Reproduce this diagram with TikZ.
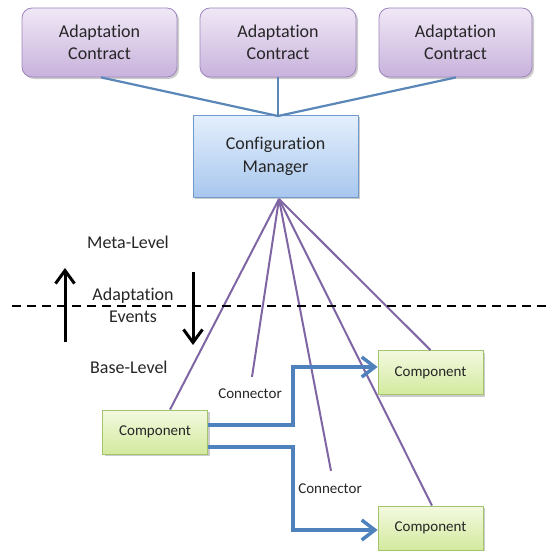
\documentclass[tikz,border=0pt]{standalone}
\usepackage{fontspec}
\setmainfont{Carlito}[Ligatures={NoCommon}]
\usetikzlibrary{arrows.meta,shadows,calc}
\definecolor{pfill1}{HTML}{F0E8F6}
\definecolor{pfill2}{HTML}{C8B2DC}
\definecolor{pdraw}{HTML}{9F86BE}
\definecolor{bfill1}{HTML}{E4EFFC}
\definecolor{bfill2}{HTML}{A8C7EE}
\definecolor{bdraw}{HTML}{7199CC}
\definecolor{gfill1}{HTML}{F3F9E0}
\definecolor{gfill2}{HTML}{D3EA9E}
\definecolor{gdraw}{HTML}{A3C46C}
\definecolor{steel}{HTML}{5B86B8}
\definecolor{lilac}{HTML}{7F65A3}
\definecolor{arrowblue}{HTML}{4F81BD}
\definecolor{txt}{HTML}{262626}
\tikzset{
  shad/.style={drop shadow={shadow xshift=2pt,shadow yshift=-2pt,opacity=0.2,fill=black}},
  contract/.style={shad,draw=pdraw,line width=0.8pt,rounded corners=10pt,top color=pfill1,bottom color=pfill2,
    align=center,text=txt,font=\fontsize{18}{22}\selectfont,inner sep=0pt},
  manager/.style={shad,draw=bdraw,line width=0.8pt,top color=bfill1,bottom color=bfill2,
    align=center,text=txt,font=\fontsize{18}{23}\selectfont,inner sep=0pt,minimum width=165pt,minimum height=82pt},
  comp/.style={shad,draw=gdraw,line width=0.8pt,top color=gfill1,bottom color=gfill2,
    text=txt,font=\fontsize{15}{18}\selectfont,inner sep=0pt,minimum width=105pt,minimum height=44pt},
  lbl/.style={text=txt,font=\fontsize{18}{22}\selectfont,inner sep=0pt,align=center},
  smalllbl/.style={text=txt,font=\fontsize{15}{18}\selectfont,inner sep=0pt},
  upline/.style={draw=steel,line width=2.2pt},
  metaline/.style={draw=lilac,line width=2pt},
  flow/.style={draw=arrowblue,line width=3.5pt,-{Straight Barb[length=13pt,width=20pt,line width=3.5pt]}},
  evarrow/.style={draw=black,line width=3pt,-{Straight Barb[length=13pt,width=19pt,line width=3pt]}},
}
\begin{document}
\begin{tikzpicture}[x=1pt,y=-1pt]
\useasboundingbox (0,0) rectangle (546,551);
% boxes
\node[contract,minimum width=155pt,minimum height=69pt] (ac1) at (99.5,42.5) {Adaptation\\Contract};
\node[contract,minimum width=156pt,minimum height=69pt] (ac2) at (278,42.5) {Adaptation\\Contract};
\node[contract,minimum width=153pt,minimum height=69pt] (ac3) at (455.5,42.5) {Adaptation\\Contract};
\node[manager] (cm) at (275.5,156) {Configuration\\Manager};
\node[comp] (c1) at (155,432) {Component};
\node[comp] (c2) at (430.5,372.5) {Component};
\node[comp] (c3) at (430.5,528) {Component};
% labels
\node[smalllbl] (k1) at (250,394) {Connector};
\node[smalllbl] (k2) at (330,489) {Connector};
\node[lbl] (meta) at (128,242) {Meta-Level};
\node[lbl] (ev) at (133,305) {Adaptation\\Events};
\node[lbl,anchor=west] (base) at (90,367) {Base-Level};
% connection points
\coordinate (cmtop) at (278,116);
\coordinate (cmbot) at (279,199);
% contract lines
\draw[upline] ($(ac1.south)+(1.5,0)$) -- (cmtop);
\draw[upline] (ac2.south) -- (cmtop);
\draw[upline] ($(ac3.south)+(0.5,0)$) -- (cmtop);
% meta lines
\draw[metaline] (cmbot) -- ($(c1.north)+(15,0)$);
\draw[metaline] (cmbot) -- ($(k1.north)+(2,-12)$);
\draw[metaline] (cmbot) -- ($(k2.north)+(1,-13)$);
\draw[metaline] (cmbot) -- (c2.north);
\draw[metaline] (cmbot) -- ($(c3.north)+(1.5,0)$);
% dashed level line
\draw[black,line width=1.5pt,dash pattern=on 9pt off 6pt] (12,306) -- (546,306);
% event arrows
\draw[evarrow] (65,342) -- (65,268);
\draw[evarrow] (193,272) -- (193,345);
% flows
\draw[flow] ($(c1.east)+(0,-7)$) -- ++(85,0) |- ($(c2.west)+(0,-5.5)$);
\draw[flow] ($(c1.east)+(0,15)$) -- ++(85,0) |- ($(c3.west)+(0,2)$);
\end{tikzpicture}
\end{document}
